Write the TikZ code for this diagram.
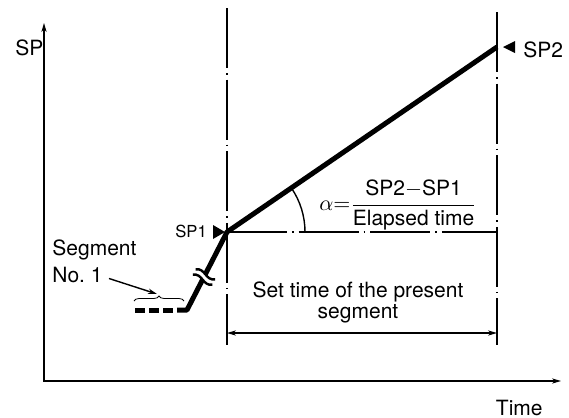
\documentclass[tikz,border=0pt]{standalone}
\usepackage{amsmath}
\usepackage{fontspec}
\setmainfont{TeX Gyre Heros}
\usepackage{tikz}
\usetikzlibrary{arrows.meta, angles, decorations.pathreplacing}

\begin{document}
\begin{tikzpicture}[x=0.5pt, y=-0.5pt, >={Stealth[length=4.5pt, width=2.6pt]},
  font=\fontsize{10.5}{12}\selectfont,
  thinline/.style={line width=0.7pt},
  profile/.style={line width=2.5pt},
  guide/.style={line width=0.6pt, dash pattern=on 30pt off 2.5pt on 0.8pt off 2.5pt},
  lbl/.style={anchor=base west, inner sep=0pt}]
  \useasboundingbox (0,0) rectangle (569,418);
  % axes
  \coordinate (origin) at (44,381);
  \coordinate (ytip) at (44,23);
  \coordinate (xtip) at (561,381);
  \draw[thinline, <->] (ytip) -- (origin) -- (xtip);
  \node[lbl] (splbl) at (15,55) {SP};
  \node[lbl, anchor=base east] (timelbl) at (543,415) {Time};
  % set points
  \coordinate (sp1) at (227,232);
  \coordinate (sp2) at (497,47);
  \coordinate (hend) at (497,232);
  \coordinate (low) at (187,310);
  % segment borders
  \coordinate (g1top) at (227,8);
  \coordinate (g1bot) at (227,345);
  \coordinate (g2top) at (497,12);
  \coordinate (g2bot) at (497,345);
  \draw[guide] (g1top) -- (g1bot);
  \draw[guide] (g2top) -- (g2bot);
  \draw[guide] (sp1) -- (hend);
  % ramp
  \draw[profile, line join=round] (177,310) -- (low) -- (sp1) -- (sp2);
  \draw[profile, dash pattern=on 5pt off 2pt] (135,310) -- (173,310);
  % break mark
  \begin{scope}[shift={(204,277)}, rotate=-27]
    \fill[white] (-11,-3) .. controls (-3,-9) and (3,3) .. (11,-3)
      -- (11,3) .. controls (3,9) and (-3,-3) .. (-11,3) -- cycle;
    \draw[line width=1.2pt] (-11,-3) .. controls (-3,-9) and (3,3) .. (11,-3);
    \draw[line width=1.2pt] (-11,3) .. controls (-3,-3) and (3,9) .. (11,3);
  \end{scope}
  % markers
  \fill (213,225) -- (225,232) -- (213,239) -- cycle;
  \fill (503,47) -- (515,41) -- (515,53) -- cycle;
  \node[lbl, font=\fontsize{8.3}{10}\selectfont] (sp1lbl) at (175,237) {SP1};
  \node[lbl] (sp2lbl) at (523,57) {SP2};
  % slope
  \pic[draw, thinline, angle radius=39pt] {angle=hend--sp1--sp2};
  \node[inner sep=0pt] (slope) at (398,205)
    {$\alpha{=}\dfrac{\text{SP2}{-}\text{SP1}}{\text{Elapsed time}}$};
  % segment no. 1
  \node[lbl] (seglbl) at (52,255) {Segment};
  \node[lbl] (nolbl) at (52,282) {No.\ 1};
  \coordinate (bracetip) at (157,294);
  \draw[decorate, decoration={brace, amplitude=2.5pt}, line width=0.4pt]
    (134,301) -- (184,301);
  \draw[thinline, ->] ([xshift=3pt, yshift=-2pt]nolbl.east) -- (bracetip);
  % set time
  \coordinate (d1) at (227,333);
  \coordinate (d2) at (497,333);
  \draw[thinline, <->] (d1) -- (d2);
  \node[align=center, inner sep=0pt, font=\fontsize{10.5}{10.5}\selectfont]
    (settime) at (358,302) {Set time of the present\\segment};
\end{tikzpicture}
\end{document}
